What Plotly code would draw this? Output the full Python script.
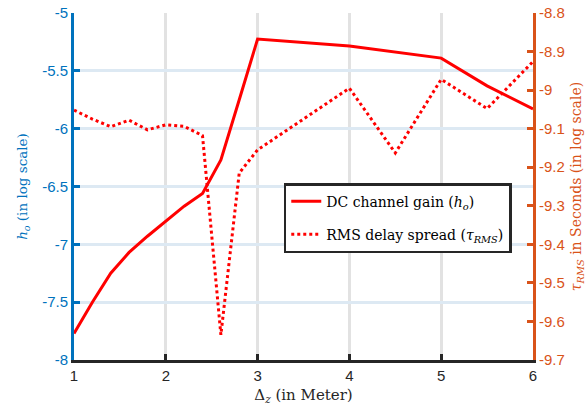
import plotly.graph_objects as go

# Vertical separation between transmitter and receiver (metres)
dz_gain = [1, 1.2, 1.4, 1.6, 1.8, 2, 2.2, 2.4, 2.6, 2.8, 3, 4, 5, 5.5, 6]
# DC channel gain h_o (log10)
gain = [-7.77, -7.5, -7.25, -7.07, -6.93, -6.8, -6.67, -6.56, -6.27, -5.75,
        -5.225, -5.285, -5.39, -5.63, -5.83]

dz_rms = [1, 1.2, 1.4, 1.6, 1.8, 2, 2.2, 2.4, 2.6, 2.8, 3, 4, 4.5, 5, 5.5, 6]
# RMS delay spread tau_RMS in seconds (log10)
rms = [-9.052, -9.075, -9.095, -9.078, -9.103, -9.09, -9.094, -9.118, -9.635,
       -9.215, -9.155, -8.995, -9.163, -8.972, -9.048, -8.926]

x_ticks = [1, 2, 3, 4, 5, 6]
x_labels = ["1", "2", "3", "4", "5", "6"]
left_ticks = [-5, -5.5, -6, -6.5, -7, -7.5, -8]
left_labels = ["-5", "-5.5", "-6", "-6.5", "-7", "-7.5", "-8"]
right_ticks = [-8.8, -8.9, -9.0, -9.1, -9.2, -9.3, -9.4, -9.5, -9.6, -9.7]
right_labels = ["-8.8", "-8.9", "-9", "-9.1", "-9.2", "-9.3", "-9.4", "-9.5",
                "-9.6", "-9.7"]

BLUE = "#0072BD"
ORANGE = "#D95319"
DARK = "#262626"
RED = "#ff0000"
SANS = "Liberation Sans, Arial, sans-serif"
SERIF = "DejaVu Serif, serif"

fig = go.Figure()
fig.add_trace(go.Scatter(
    x=dz_gain, y=gain, mode="lines", yaxis="y",
    line=dict(color=RED, width=3),
    name="DC channel gain (<i>h</i><sub><i>o</i></sub>)",
    legendgroup="g1",
))
fig.add_trace(go.Scatter(
    x=dz_rms, y=rms, mode="lines", yaxis="y2",
    line=dict(color=RED, width=3, dash="dot"),
    name="RMS delay spread (<i>τ</i><sub><i>RMS</i></sub>)",
    legendgroup="g2",
))

fig.update_layout(
    width=587, height=409,
    margin=dict(l=74, r=54, t=13, b=49),
    paper_bgcolor="white", plot_bgcolor="white",
    xaxis=dict(
        range=[1, 6], tickvals=x_ticks, ticktext=x_labels, automargin=False,
        showline=True, linecolor=DARK, linewidth=3,
        ticks="inside", ticklen=6, tickwidth=3, tickcolor=DARK,
        showgrid=True, gridcolor="#e2e2e2", gridwidth=3,
        zeroline=False,
        tickfont=dict(family=SANS, size=15, color=DARK),
        title=dict(text="Δ<sub><i>z</i></sub> (in Meter)", standoff=7,
                   font=dict(family=SERIF, size=15, color=DARK)),
    ),
    yaxis=dict(
        range=[-8, -5], tickvals=left_ticks, ticktext=left_labels, automargin=False,
        showline=True, linecolor=BLUE, linewidth=3,
        ticks="inside", ticklen=6, tickwidth=3, tickcolor=BLUE,
        showgrid=True, gridcolor="#dde9f3", gridwidth=3,
        zeroline=False,
        tickfont=dict(family=SANS, size=15, color=BLUE),
        title=dict(text="<i>h</i><sub><i>o</i></sub> (in log scale)", standoff=12,
                   font=dict(family=SERIF, size=13.5, color=BLUE)),
    ),
    yaxis2=dict(
        range=[-9.7, -8.8], tickvals=right_ticks, ticktext=right_labels,
        overlaying="y", side="right", automargin=False,
        showline=True, linecolor=ORANGE, linewidth=3,
        ticks="inside", ticklen=6, tickwidth=3, tickcolor=ORANGE,
        showgrid=False, zeroline=False,
        tickfont=dict(family=SANS, size=15, color=ORANGE),
        title=dict(text="<i>τ</i><sub><i>RMS</i></sub> in Seconds (in log scale)",
                   standoff=8, font=dict(family=SERIF, size=14, color=ORANGE)),
    ),
    legend=dict(
        x=0.457, y=0.51, xanchor="left", yanchor="top",
        bgcolor="white", bordercolor=DARK, borderwidth=2.5,
        font=dict(family=SERIF, size=14, color="black"),
        tracegroupgap=12,
    ),
    showlegend=True,
)

fig.write_html("out.html")
